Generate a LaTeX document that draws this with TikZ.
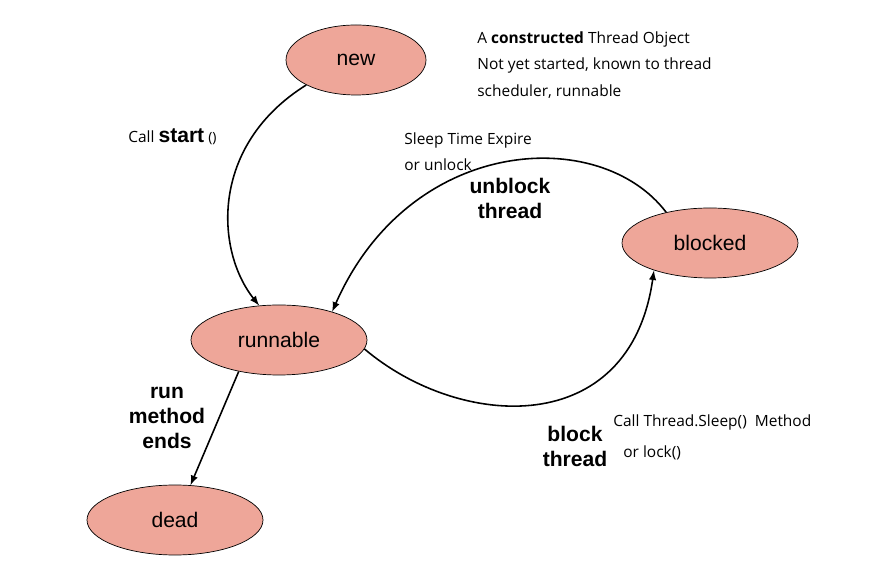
\documentclass[tikz,border=0pt]{standalone}
\usepackage{fontspec}
\setmainfont{Open Sans}
\newfontfamily\arialfont{Liberation Sans}
\usetikzlibrary{shapes.geometric}
\definecolor{statepink}{HTML}{EEA699}

\begin{document}
\begin{tikzpicture}[
  state/.style={ellipse, draw, thin, fill=statepink, minimum width=3.52cm, minimum height=1.4cm, inner sep=0pt, font=\arialfont\fontsize{12}{14}\selectfont},
  trans/.style={-latex, line width=0.9pt},
  boldlbl/.style={align=center, font=\arialfont\bfseries\fontsize{12}{14.2}\selectfont},
  note/.style={align=left, anchor=west, inner sep=0pt, font=\fontsize{8.8}{15}\selectfont}
]
\useasboundingbox (0,0) rectangle (17.44,11.26);

% states
\node[state, minimum width=2.8cm] (new) at (7.12,10.06) {new};
\node[state] (runnable) at (5.58,4.46) {runnable};
\node[state] (blocked) at (14.2,6.4) {blocked};
\node[state] (dead) at (3.5,0.86) {dead};

% transitions
\draw[trans] (new.south west) .. controls (4.2,8.36) and (4.3,6.26) .. (runnable.120);
\draw[trans] (blocked.145) .. controls (12,8.76) and (8.2,8.56) .. (runnable.28);
\draw[trans] (runnable.-6) .. controls (9.2,2.66) and (12.6,2.46) .. (blocked.206);
\draw[trans] (runnable.218) -- (dead.66);

% labels
\node[note] (startlbl) at (2.56,8.52) {Call {\arialfont\bfseries\fontsize{12}{14}\selectfont start} {\fontsize{8}{9}\selectfont ()}};
\node[note] (newnote) at (9.54,9.96) {A \textbf{constructed} Thread Object\\ Not yet started, known to thread\\ scheduler, runnable};
\node[note] (wakenote) at (8.08,8.22) {Sleep Time Expire\\ or unlock};
\node[boldlbl] (unblocklbl) at (10.2,7.3) {unblock\\ thread};
\node[boldlbl] (blocklbl) at (11.5,2.34) {block\\ thread};
\node[note] (sleepnote) at (12.26,2.82) {Call Thread.Sleep()\ \ Method};
\node[note] (locknote) at (12.46,2.2) {or lock()};
\node[boldlbl] (endlbl) at (3.34,2.9) {run\\ method\\ ends};

\end{tikzpicture}
\end{document}
